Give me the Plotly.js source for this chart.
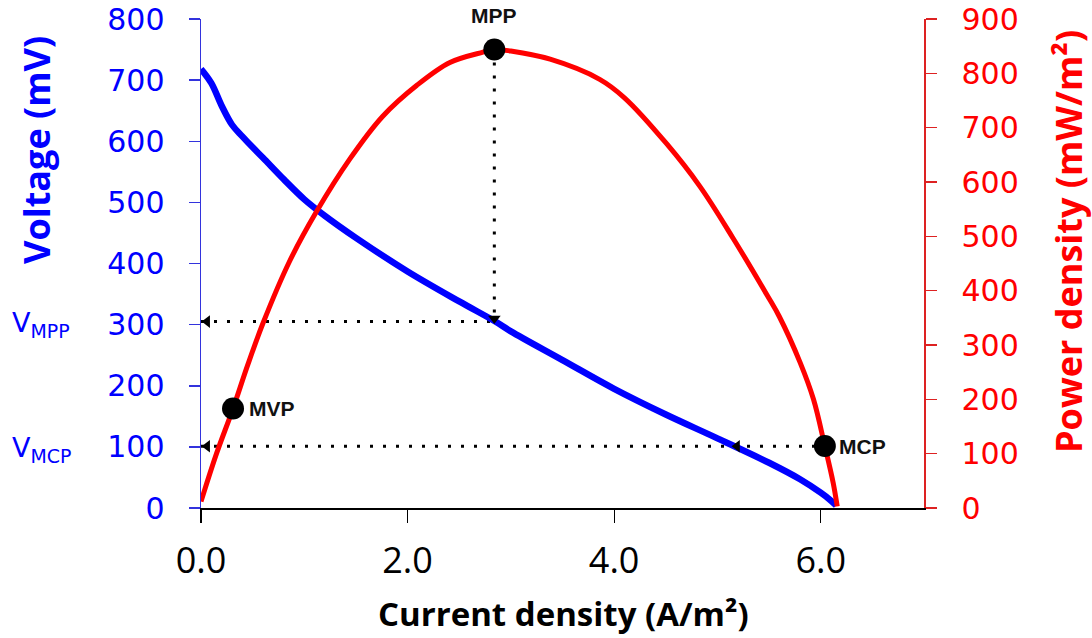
<!DOCTYPE html>
<html>
<head>
<meta charset="utf-8">
<script src="https://cdn.plot.ly/plotly-3.0.1.min.js"></script>
<style>html,body{margin:0;padding:0;background:#fff;}#chart{width:1092px;height:638px;}</style>
</head>
<body>
<div id="chart"></div>
<script>
// ---- data ----
const currentV = [0, 0.1, 0.2, 0.3, 0.4, 0.5, 0.6, 0.8, 1.0, 1.2, 1.5, 2.0, 2.5, 2.85, 3.0, 3.5, 4.0, 4.5, 5.0, 5.5, 5.8, 6.0, 6.1, 6.15];
const voltage  = [718, 695, 658, 627, 608, 590, 573, 538, 505, 478, 442, 387, 338, 305, 289, 242, 195, 153, 114, 74, 47, 25, 12, 4];

const currentP = [0, 0.15, 0.31, 0.45, 0.6, 0.86, 1.12, 1.44, 1.76, 2.09, 2.41, 2.73, 2.84, 3.0, 3.38, 3.86, 4.1, 4.51, 4.83, 5.15, 5.48, 5.6, 5.8, 5.93, 6.04, 6.12, 6.16];
const power    = [12, 100, 183, 262, 340, 455, 546, 642, 721, 778, 820, 839, 844, 841, 826, 789, 755, 670, 592, 497, 392, 352, 268, 200, 114, 47, 3];

const pointLabels  = ['MPP', 'MVP', 'MCP'];
const pointCurrent = [2.84, 0.31, 6.04];
const pointPower   = [844, 183, 114];

const vMPP = 305;   // mV
const vMCP = 101;   // mV
const jBlueMCP = 5.19; // where MCP dotted line crosses the voltage curve

const xTickVals = [0, 2, 4, 6];
const xTickText = ['0.0', '2.0', '4.0', '6.0'];

// ---- layout geometry ----
const W = 1092, H = 638;
const M = {l: 201, r: 168, t: 19, b: 130};
const PW = W - M.l - M.r, PH = H - M.t - M.b;
const px2x = p => (p - M.l) / PW;
const px2y = p => (H - M.b - p) / PH;

const BLUE = '#0000ff', RED = '#ff0000';
const dotDash = '3px,10px';

const traces = [
  // dotted guides
  {x: [0, pointCurrent[0]], y: [vMPP, vMPP], yaxis: 'y', mode: 'lines',
   line: {color: '#000', width: 3, dash: dotDash}, hoverinfo: 'skip'},
  {x: [0, pointCurrent[2]], y: [vMCP, vMCP], yaxis: 'y', mode: 'lines',
   line: {color: '#000', width: 3, dash: dotDash}, hoverinfo: 'skip'},
  {x: [pointCurrent[0], pointCurrent[0]], y: [pointPower[0], vMPP * 900 / 800], yaxis: 'y2', mode: 'lines',
   line: {color: '#000', width: 3, dash: dotDash}, hoverinfo: 'skip'},
  // voltage
  {x: currentV, y: voltage, yaxis: 'y', mode: 'lines', name: 'Voltage',
   line: {color: BLUE, width: 6.5, shape: 'spline', smoothing: 1}},
  // power
  {x: currentP, y: power, yaxis: 'y2', mode: 'lines', name: 'Power',
   line: {color: RED, width: 5, shape: 'spline', smoothing: 1}},
  // arrowheads
  {x: [0.06, 0.06, jBlueMCP], y: [vMPP, vMCP, vMCP], yaxis: 'y', mode: 'markers',
   marker: {symbol: 'triangle-left', size: 11, color: '#000'}, hoverinfo: 'skip'},
  {x: [pointCurrent[0]], y: [vMPP + 5], yaxis: 'y', mode: 'markers',
   marker: {symbol: 'triangle-down', size: 11, color: '#000'}, hoverinfo: 'skip'},
  // special points
  {x: pointCurrent, y: pointPower, yaxis: 'y2', mode: 'markers',
   marker: {size: 22, color: '#000'}, hoverinfo: 'skip'}
];

const labelFont = {family: 'Liberation Sans, Arial, sans-serif', size: 21, color: '#111'};

const annotations = [
  {x: pointCurrent[0], y: pointPower[0], xref: 'x', yref: 'y2', text: '<b>' + pointLabels[0] + '</b>',
   showarrow: false, yshift: 34, xanchor: 'center', yanchor: 'middle', font: labelFont},
  {x: pointCurrent[1], y: pointPower[1], xref: 'x', yref: 'y2', text: '<b>' + pointLabels[1] + '</b>',
   showarrow: false, xshift: 14, xanchor: 'left', yanchor: 'middle', font: labelFont},
  {x: pointCurrent[2], y: pointPower[2], xref: 'x', yref: 'y2', text: '<b>' + pointLabels[2] + '</b>',
   showarrow: false, xshift: 12, xanchor: 'left', yanchor: 'middle', font: labelFont},
  {x: px2x(10), y: vMPP, xref: 'paper', yref: 'y', text: 'V<sub>MPP</sub>', showarrow: false, yshift: -3,
   xanchor: 'left', yanchor: 'middle', font: {family: 'DejaVu Sans', size: 27, color: BLUE}},
  {x: px2x(10), y: vMCP, xref: 'paper', yref: 'y', text: 'V<sub>MCP</sub>', showarrow: false, yshift: -3,
   xanchor: 'left', yanchor: 'middle', font: {family: 'DejaVu Sans', size: 27, color: BLUE}},
  // axis titles
  {x: px2x(36), y: px2y(150), xref: 'paper', yref: 'paper', text: '<b>Voltage (mV)</b>', textangle: -90,
   showarrow: false, xanchor: 'center', yanchor: 'middle', font: {family: 'Open Sans', size: 36, color: BLUE}},
  {x: px2x(1068), y: px2y(242), xref: 'paper', yref: 'paper', text: '<b>Power density (mW/m²)</b>', textangle: -90,
   showarrow: false, xanchor: 'center', yanchor: 'middle', font: {family: 'Open Sans', size: 36, color: RED}},
  {x: px2x(563), y: px2y(613), xref: 'paper', yref: 'paper', text: '<b>Current density (A/m²)</b>',
   showarrow: false, xanchor: 'center', yanchor: 'middle', font: {family: 'Open Sans', size: 33, color: '#000'}}
];

const layout = {
  width: W, height: H,
  margin: M,
  paper_bgcolor: '#fff', plot_bgcolor: '#fff',
  showlegend: false,
  xaxis: {
    range: [0, 7], tickvals: xTickVals, ticktext: xTickText,
    showgrid: false, zeroline: false, showline: true, linecolor: '#000', linewidth: 1.5,
    ticks: 'outside', ticklen: 13, tickwidth: 1.2, tickcolor: '#000',
    tickfont: {family: 'Open Sans', size: 36, color: '#000'}, ticklabelstandoff: 7
  },
  yaxis: {
    range: [0, 800], dtick: 100, tick0: 0,
    showgrid: false, zeroline: false, showline: true, linecolor: '#3333dd', linewidth: 1.5,
    ticks: 'outside', ticklen: 11, tickwidth: 1.5, tickcolor: '#3333dd',
    tickfont: {family: 'DejaVu Sans', size: 30, color: BLUE}, ticklabelstandoff: 18
  },
  yaxis2: {
    range: [0, 900], dtick: 100, tick0: 0, overlaying: 'y', side: 'right',
    showgrid: false, zeroline: false, showline: true, linecolor: '#dd2222', linewidth: 1.5,
    ticks: 'outside', ticklen: 11, tickwidth: 1.5, tickcolor: '#dd2222',
    tickfont: {family: 'DejaVu Sans', size: 30, color: RED}, ticklabelstandoff: 19
  },
  annotations: annotations
};

Plotly.newPlot('chart', traces, layout, {displayModeBar: false, staticPlot: true});
</script>
</body>
</html>
